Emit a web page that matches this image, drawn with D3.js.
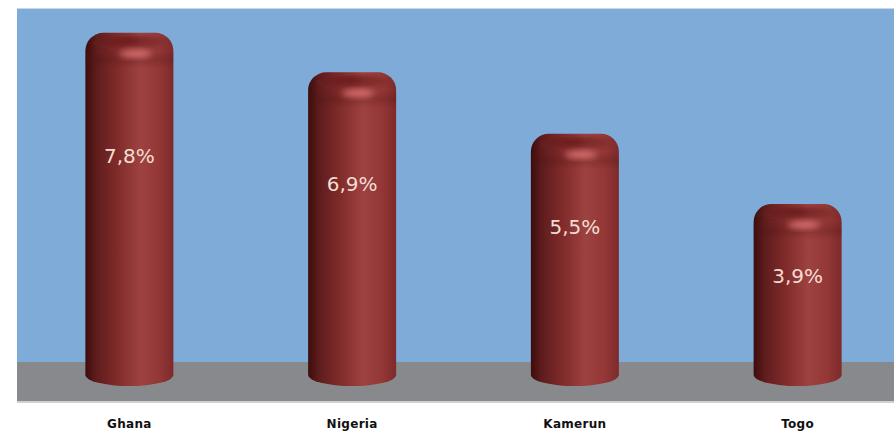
<!DOCTYPE html>
<html>
<head>
<meta charset="utf-8">
<script src="https://cdn.jsdelivr.net/npm/d3@7"></script>
<style>
  body { margin: 0; background: #fff; }
  .cat { font-family: "DejaVu Sans", sans-serif; font-weight: bold; font-size: 12px; letter-spacing: 0.3px; fill: #111; }
  .val { font-family: "DejaVu Sans", sans-serif; font-size: 20px; fill: #f2ddd3; }
</style>
</head>
<body>
<svg width="894" height="432"></svg>
<script>
  // DATA
  const countries = ["Ghana", "Nigeria", "Kamerun", "Togo"];
  const values = [7.8, 6.9, 5.5, 3.9];
  const valueLabels = ["7,8%", "6,9%", "5,5%", "3,9%"];

  const data = countries.map((c, i) => ({ country: c, value: values[i], label: valueLabels[i] }));

  // SVG PARAMETERS
  const svg = d3.select("svg");
  const width = +svg.attr("width");
  const height = +svg.attr("height");

  const panel = { left: 17, top: 9, floorTop: 362, floorBottom: 401 };
  const barWidth = 88;
  const capR = 18;      // rounded shoulder
  const baseRy = 11;    // bottom ellipse

  // SCALES
  const xScale = d3.scalePoint()
    .domain(countries)
    .range([18, 909])
    .padding(0.5);

  const yScale = d3.scaleLinear()
    .domain([0, 8])
    .range([375, 24]);

  // GRADIENTS
  const defs = svg.append("defs");

  const body = defs.append("linearGradient").attr("id", "bodyGrad")
    .attr("x1", "0%").attr("x2", "100%").attr("y1", "0%").attr("y2", "0%");
  [[0, "#3c0c0c"], [0.12, "#5e1c1c"], [0.35, "#7f2a2a"], [0.62, "#9e4141"], [0.85, "#923636"], [1, "#7e2a2a"]]
    .forEach(([o, c]) => body.append("stop").attr("offset", o).attr("stop-color", c));

  const topShade = defs.append("radialGradient").attr("id", "topShade")
    .attr("cx", "50%").attr("cy", "35%").attr("r", "60%");
  topShade.append("stop").attr("offset", 0).attr("stop-color", "#5a1616").attr("stop-opacity", 0.7);
  topShade.append("stop").attr("offset", 0.7).attr("stop-color", "#6a1e1e").attr("stop-opacity", 0.3);
  topShade.append("stop").attr("offset", 1).attr("stop-color", "#7a2626").attr("stop-opacity", 0);

  const rim = defs.append("linearGradient").attr("id", "rimGrad")
    .attr("x1", 0).attr("x2", 0).attr("y1", 0).attr("y2", 1);
  rim.append("stop").attr("offset", 0).attr("stop-color", "#4a1010").attr("stop-opacity", 0);
  rim.append("stop").attr("offset", 0.5).attr("stop-color", "#4a1010").attr("stop-opacity", 0.22);
  rim.append("stop").attr("offset", 1).attr("stop-color", "#4a1010").attr("stop-opacity", 0);

  defs.append("filter").attr("id", "blur").attr("x", "-50%").attr("y", "-50%").attr("width", "200%").attr("height", "200%")
    .append("feGaussianBlur").attr("stdDeviation", 3);
  defs.append("filter").attr("id", "blurS")
    .append("feGaussianBlur").attr("stdDeviation", 1);

  // BACKGROUND
  svg.append("rect").attr("x", panel.left).attr("y", panel.top - 1)
    .attr("width", width - panel.left).attr("height", 1).attr("fill", "#c6d8ec");
  svg.append("rect").attr("x", panel.left).attr("y", panel.top)
    .attr("width", width - panel.left).attr("height", panel.floorTop - panel.top)
    .attr("fill", "#7eabd8");
  svg.append("rect").attr("x", panel.left).attr("y", panel.floorTop)
    .attr("width", width - panel.left).attr("height", panel.floorBottom - panel.floorTop)
    .attr("fill", "#87898d");
  svg.append("rect").attr("x", panel.left).attr("y", panel.floorBottom)
    .attr("width", width - panel.left).attr("height", 2).attr("fill", "#cfd0d2");

  // CYLINDERS
  const cyl = svg.selectAll("g.cyl").data(data).enter().append("g").attr("class", "cyl");

  const bodyPath = (d) => {
    const cx = xScale(d.country);
    const x0 = cx - barWidth / 2, x1 = cx + barWidth / 2;
    const top = yScale(d.value);
    const base = yScale(0);
    return `M${x0},${base} L${x0},${top + capR} A${capR},${capR} 0 0 1 ${x0 + capR},${top} ` +
      `L${x1 - capR},${top} A${capR},${capR} 0 0 1 ${x1},${top + capR} L${x1},${base} ` +
      `A${barWidth / 2},${baseRy} 0 0 1 ${x0},${base} Z`;
  };

  cyl.append("path").attr("d", bodyPath).attr("fill", "url(#bodyGrad)");

  // top face shading
  cyl.append("ellipse")
    .attr("cx", (d) => xScale(d.country))
    .attr("cy", (d) => yScale(d.value) + 11)
    .attr("rx", barWidth / 2 - 7)
    .attr("ry", 9)
    .attr("fill", "url(#topShade)")
    .attr("filter", "url(#blurS)");

  // rim band just under the cap
  cyl.append("rect")
    .attr("x", (d) => xScale(d.country) - barWidth / 2)
    .attr("y", (d) => yScale(d.value) + 18)
    .attr("width", barWidth)
    .attr("height", 18)
    .attr("fill", "url(#rimGrad)");

  // highlight on the front lip
  cyl.append("ellipse")
    .attr("cx", (d) => xScale(d.country) + 6)
    .attr("cy", (d) => yScale(d.value) + 21)
    .attr("rx", 16)
    .attr("ry", 3.5)
    .attr("fill", "#e67a7a")
    .attr("opacity", 0.85)
    .attr("filter", "url(#blur)");

  // VALUE LABELS
  svg.selectAll("text.val").data(data).enter().append("text")
    .attr("class", "val")
    .attr("x", (d) => xScale(d.country))
    .attr("y", (d) => yScale(d.value * 0.7) + 21)
    .attr("text-anchor", "middle")
    .attr("dominant-baseline", "central")
    .text((d) => d.label);

  // CATEGORY LABELS
  svg.selectAll("text.cat").data(data).enter().append("text")
    .attr("class", "cat")
    .attr("x", (d) => xScale(d.country))
    .attr("y", 428)
    .attr("text-anchor", "middle")
    .text((d) => d.country);
</script>
</body>
</html>
